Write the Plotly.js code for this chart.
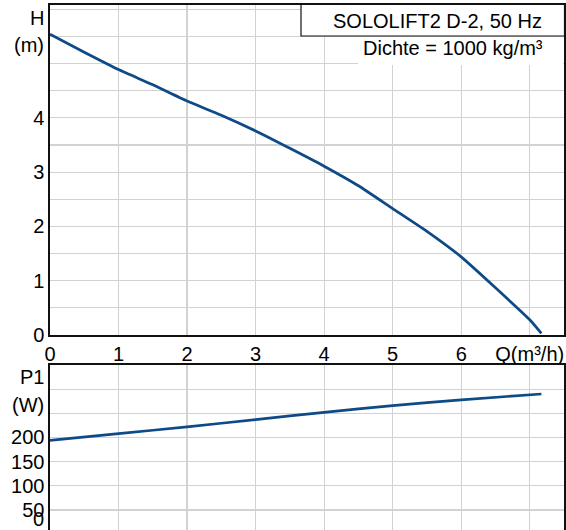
<!DOCTYPE html>
<html>
<head>
<meta charset="utf-8">
<script src="https://cdn.plot.ly/plotly-3.0.1.min.js"></script>
<style>html,body{margin:0;padding:0;background:#fff;}#chart{width:566px;height:530px;}</style>
</head>
<body>
<div id="chart"></div>
<script>
// Head curve H(Q)
const qHead = [0, 0.5, 1, 1.5, 2, 2.5, 3, 3.5, 4, 4.5, 5, 5.5, 6, 6.5, 7, 7.17];
const headM = [5.54, 5.21, 4.89, 4.61, 4.31, 4.05, 3.76, 3.44, 3.11, 2.75, 2.33, 1.91, 1.44, 0.87, 0.28, 0.03];
// Power curve P1(Q)
const qPower = [0, 1, 2, 3, 4, 5, 6, 7.17];
const powerW = [194, 208, 222, 237, 252, 266, 278, 290];
// Tick labels
const qTicks = [0, 1, 2, 3, 4, 5, 6, 7];
const qTickText = ["0", "1", "2", "3", "4", "5", "6", "Q(m³/h)"];
const hTicks = [0, 0.5, 1, 1.5, 2, 2.5, 3, 3.5, 4, 4.5, 5, 5.5, 6];
const hTickText = ["0", "", "1", "", "2", "", "3", "", "4", "", "", "", ""];
const pTicks = [50, 100, 150, 200, 250, 300, 350];
const pTickText = ["50", "100", "150", "200", "", "", ""];

const FONT = "Liberation Sans, Arial, sans-serif";
const BLUE = "#0d4a86";
const GRID = "#d2d2d2";
const AX = "#111111";

const W = 566, Hpx = 530, L = 50, R = 2;
const px = x => (x - L) / (W - L - R);
const py = y => (Hpx - y) / Hpx;

const traces = [
  {x: qHead, y: headM, xaxis: "x", yaxis: "y", mode: "lines",
   line: {color: BLUE, width: 2.7, shape: "spline", smoothing: 0.5}, hoverinfo: "skip"},
  {x: qPower, y: powerW, xaxis: "x2", yaxis: "y2", mode: "lines",
   line: {color: BLUE, width: 2.7, shape: "spline", smoothing: 0.5}, hoverinfo: "skip"}
];

const tf = {family: FONT, size: 20, color: "#000"};

const layout = {
  width: W, height: Hpx,
  margin: {l: L, r: R, t: 0, b: 0, pad: 0},
  paper_bgcolor: "#fff", plot_bgcolor: "#fff",
  showlegend: false,
  font: {family: FONT, color: "#000"},
  xaxis: {domain: [0, 1], range: [0, 7.5], anchor: "y",
    tickmode: "array", tickvals: qTicks, ticktext: qTickText, tickfont: tf,
    showgrid: true, gridcolor: GRID, gridwidth: 1.2, zeroline: false,
    showline: true, mirror: true, linecolor: AX, linewidth: 1.6, ticks: ""},
  yaxis: {domain: [py(335), py(5)], range: [0, 6.08], anchor: "x",
    tickmode: "array", tickvals: hTicks, ticktext: hTickText, tickfont: tf,
    showgrid: true, gridcolor: GRID, gridwidth: 1.2, zeroline: false,
    showline: true, mirror: true, linecolor: AX, linewidth: 1.6, ticks: ""},
  xaxis2: {domain: [0, 1], range: [0, 7.5], anchor: "y2", side: "top",
    tickmode: "array", tickvals: qTicks, showticklabels: false,
    showgrid: true, gridcolor: GRID, gridwidth: 1.2, zeroline: false,
    showline: true, linecolor: AX, linewidth: 2, ticks: ""},
  yaxis2: {domain: [0, py(365)], range: [8.5, 350], anchor: "x2",
    tickmode: "array", tickvals: pTicks, ticktext: pTickText, tickfont: tf,
    showgrid: true, gridcolor: GRID, gridwidth: 1.2, zeroline: false,
    showline: true, mirror: true, linecolor: AX, linewidth: 1.6, ticks: ""},
  shapes: [
    {type: "rect", xref: "paper", yref: "paper", layer: "above",
     x0: px(358), x1: px(563), y0: py(65), y1: py(37),
     fillcolor: "#fff", line: {width: 0}},
    {type: "rect", xref: "paper", yref: "paper", layer: "above",
     x0: px(301), x1: px(564.5), y0: py(36), y1: py(4.5),
     fillcolor: "#fff", line: {color: AX, width: 1.2}}
  ],
  annotations: [
    {text: "SOLOLIFT2 D-2, 50 Hz", xref: "paper", yref: "paper", x: px(437), y: py(21),
     xanchor: "center", yanchor: "middle", showarrow: false, font: {family: FONT, size: 20, color: "#000"}},
    {text: "Dichte = 1000 kg/m³", xref: "paper", yref: "paper", x: px(453), y: py(48),
     xanchor: "center", yanchor: "middle", showarrow: false, font: {family: FONT, size: 20, color: "#000"}},
    {text: "H", xref: "paper", yref: "paper", x: px(46), y: py(18),
     xanchor: "right", yanchor: "middle", showarrow: false, font: tf},
    {text: "(m)", xref: "paper", yref: "paper", x: px(46), y: py(45),
     xanchor: "right", yanchor: "middle", showarrow: false, font: tf},
    {text: "P1", xref: "paper", yref: "paper", x: px(46), y: py(377),
     xanchor: "right", yanchor: "middle", showarrow: false, font: tf},
    {text: "(W)", xref: "paper", yref: "paper", x: px(46), y: py(405),
     xanchor: "right", yanchor: "middle", showarrow: false, font: tf},
    {text: "0", xref: "paper", yref: "paper", x: px(46), y: py(519),
     xanchor: "right", yanchor: "middle", showarrow: false, font: tf}
  ]
};

Plotly.newPlot("chart", traces, layout, {staticPlot: true, displayModeBar: false});
</script>
</body>
</html>
